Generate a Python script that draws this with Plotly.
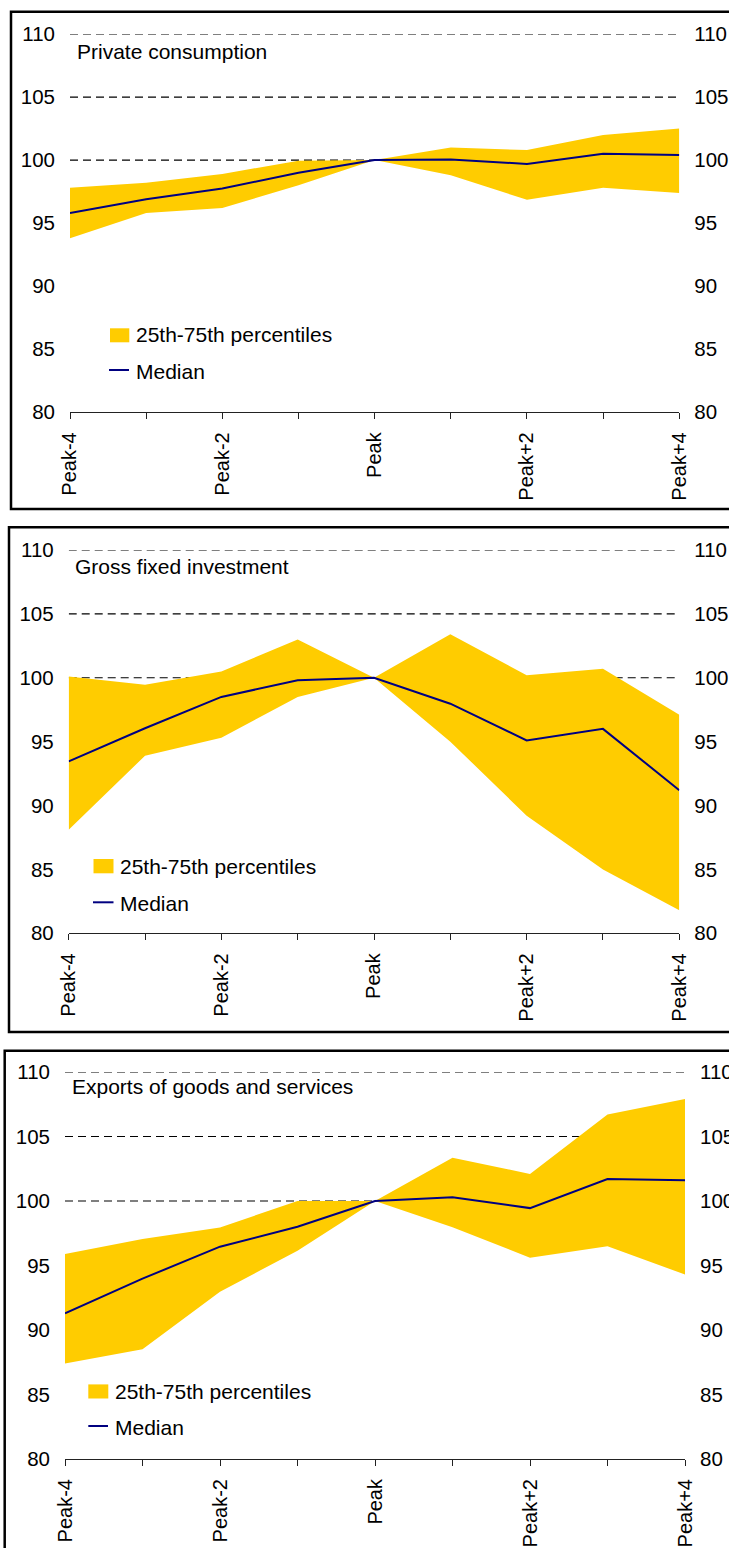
import plotly.graph_objects as go

# ---------------- data ----------------
categories = ["Peak-4", "Peak-3", "Peak-2", "Peak-1", "Peak",
              "Peak+1", "Peak+2", "Peak+3", "Peak+4"]
tick_labels = ["Peak-4", "", "Peak-2", "", "Peak", "", "Peak+2", "", "Peak+4"]
y_ticks = [80, 85, 90, 95, 100, 105, 110]
ref_levels = [100, 105, 110]

panel_titles = ["Private consumption", "Gross fixed investment",
                "Exports of goods and services"]

cons_p75 = [97.8, 98.2, 98.9, 99.95, 100.0, 101.0, 100.8, 102.0, 102.5]
cons_p25 = [93.8, 95.8, 96.2, 98.0, 100.0, 98.8, 96.85, 97.8, 97.4]
cons_med = [95.8, 96.9, 97.75, 99.0, 100.0, 100.05, 99.7, 100.5, 100.4]

inv_p75 = [100.1, 99.45, 100.5, 103.0, 100.0, 103.4, 100.2, 100.7, 97.1]
inv_p25 = [88.1, 93.9, 95.3, 98.5, 100.0, 95.0, 89.2, 85.0, 81.8]
inv_med = [93.45, 96.05, 98.5, 99.8, 100.0, 97.97, 95.1, 96.0, 91.2]

exp_p75 = [95.9, 97.05, 97.95, 100.0, 100.0, 103.35, 102.1, 106.7, 107.9]
exp_p25 = [87.4, 88.5, 92.97, 96.15, 100.0, 97.97, 95.6, 96.5, 94.3]
exp_med = [91.3, 93.98, 96.46, 98.0, 100.0, 100.29, 99.45, 101.7, 101.6]

band_name = "25th-75th percentiles"
median_name = "Median"

# ---------------- styling / layout ----------------
W, H = 729, 1548
FONT = "Liberation Sans, Arial, sans-serif"
YELLOW = "#FFCC00"
NAVY = "#000080"


def px(x):
    return x / W


def py(y):
    return 1 - y / H


# pixel geometry of each panel
panels = [
    dict(p75=cons_p75, p25=cons_p25, med=cons_med,
         x0=70, x1=679.3, ytop=34, ybot=412.3,
         box=(11, 11.7, 509), title=(75, 51),
         sq=(110, 129.3, 328.3, 342.3), txt1=(134, 335),
         ln=(109, 129, 370), txt2=(134, 371)),
    dict(p75=inv_p75, p25=inv_p25, med=inv_med,
         x0=68.7, x1=679.3, ytop=550, ybot=933.3,
         box=(9, 527.3, 1032), title=(72.5, 566),
         sq=(93.5, 113.5, 859, 873.3), txt1=(118, 866),
         ln=(93, 113.5, 902.3), txt2=(118, 903)),
    dict(p75=exp_p75, p25=exp_p25, med=exp_med,
         x0=65, x1=685, ytop=1072, ybot=1459,
         box=(4.7, 1050.7, 1600), title=(69.5, 1086.5),
         sq=(88.3, 108.3, 1384.4, 1398.5), txt1=(113, 1391.5),
         ln=(88.3, 108, 1426), txt2=(113, 1427)),
]

fig = go.Figure()
shapes = []
annotations = []

for i, p in enumerate(panels):
    n = i + 1
    xa = "x" if n == 1 else f"x{n}"
    ya = "y" if n == 1 else f"y{n}"
    yr = f"y{n + 3}"

    # band: lower bound (invisible) then upper filled to it
    fig.add_trace(go.Scatter(x=categories, y=p["p25"], xaxis=xa, yaxis=ya,
                             mode="lines", line=dict(width=0, color=YELLOW),
                             showlegend=False, hoverinfo="skip"))
    fig.add_trace(go.Scatter(x=categories, y=p["p75"], xaxis=xa, yaxis=ya,
                             mode="lines", line=dict(width=0, color=YELLOW),
                             fill="tonexty", fillcolor=YELLOW,
                             name=band_name, showlegend=False))
    fig.add_trace(go.Scatter(x=categories, y=p["med"], xaxis=xa, yaxis=ya,
                             mode="lines", line=dict(width=2, color=NAVY),
                             name=median_name, showlegend=False))
    # empty trace so that the right-hand value axis is drawn
    fig.add_trace(go.Scatter(x=[], y=[], xaxis=xa, yaxis=yr,
                             showlegend=False, hoverinfo="skip"))

    xkey = "xaxis" if n == 1 else f"xaxis{n}"
    ykey = "yaxis" if n == 1 else f"yaxis{n}"
    rkey = f"yaxis{n + 3}"
    fig.update_layout(**{
        xkey: dict(domain=[px(p["x0"]), px(p["x1"])], anchor=ya,
                   type="category", categoryorder="array",
                   categoryarray=categories, range=[0, 8],
                   tickmode="array", tickvals=categories, ticktext=tick_labels,
                   tickangle=-90, ticks="outside", ticklen=6, tickwidth=1,
                   tickcolor="#222", showline=True, linecolor="#222",
                   linewidth=1, showgrid=False, zeroline=False,
                   ticklabelstandoff=5,
                   tickfont=dict(family=FONT, size=20, color="black")),
        ykey: dict(domain=[py(p["ybot"]), py(p["ytop"])], anchor=xa,
                   range=[80, 110], tickmode="array", tickvals=y_ticks,
                   showgrid=False, zeroline=False, showline=False, ticks="",
                   ticklabelstandoff=14,
                   tickfont=dict(family=FONT, size=20.5, color="black")),
        rkey: dict(overlaying=ya, side="right", anchor=xa,
                   range=[80, 110], tickmode="array", tickvals=y_ticks,
                   showgrid=False, zeroline=False, showline=False, ticks="",
                   ticklabelstandoff=14,
                   tickfont=dict(family=FONT, size=20.5, color="black")),
    })

    # dashed reference lines (under the band)
    for lv in ref_levels:
        shapes.append(dict(type="line", xref=xa, yref=ya, x0=0, x1=8,
                           y0=lv, y1=lv, layer="below",
                           line=dict(color="black", width=1.2, dash="8px,5px")))

    # panel border
    bx, btop, bbot = p["box"]
    shapes.append(dict(type="rect", xref="paper", yref="paper",
                       x0=px(bx), x1=px(W + 20), y0=py(bbot), y1=py(btop),
                       line=dict(color="black", width=2.5),
                       fillcolor="rgba(0,0,0,0)", layer="above"))

    # panel title
    tx, tyy = p["title"]
    annotations.append(dict(text=panel_titles[i], xref="paper", yref="paper",
                            x=px(tx), y=py(tyy), xanchor="left",
                            yanchor="middle", showarrow=False,
                            font=dict(family=FONT, size=21, color="black")))

    # legend (drawn manually)
    sx0, sx1, sy0, sy1 = p["sq"]
    shapes.append(dict(type="rect", xref="paper", yref="paper",
                       x0=px(sx0), x1=px(sx1), y0=py(sy1), y1=py(sy0),
                       fillcolor=YELLOW, line=dict(width=0)))
    lx0, lx1, ly = p["ln"]
    shapes.append(dict(type="line", xref="paper", yref="paper",
                       x0=px(lx0), x1=px(lx1), y0=py(ly), y1=py(ly),
                       line=dict(color=NAVY, width=2)))
    for (tx2, ty2), label in ((p["txt1"], band_name), (p["txt2"], median_name)):
        annotations.append(dict(text=label, xref="paper", yref="paper",
                                x=px(tx2), y=py(ty2), xanchor="left",
                                yanchor="middle", showarrow=False,
                                font=dict(family=FONT, size=21, color="black")))

fig.update_layout(width=W, height=H,
                  margin=dict(l=0, r=0, t=0, b=0, pad=0, autoexpand=False),
                  paper_bgcolor="white", plot_bgcolor="rgba(0,0,0,0)",
                  showlegend=False, shapes=shapes, annotations=annotations,
                  font=dict(family=FONT, color="black"))

fig.write_html("out.html", config={"displayModeBar": False})

# remove the default page margin so the figure sits at the window origin
with open("out.html", "r", encoding="utf-8") as f:
    html = f.read()
html = html.replace("<head>", "<head><style>html,body{margin:0;padding:0;overflow:hidden;}</style>", 1)
with open("out.html", "w", encoding="utf-8") as f:
    f.write(html)
